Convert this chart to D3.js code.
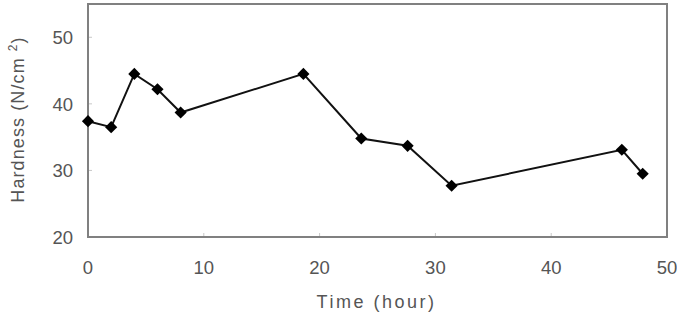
<!DOCTYPE html>
<html><head><meta charset="utf-8">
<script src="https://cdn.jsdelivr.net/npm/d3@7"></script>
<style>body{margin:0;background:#fff}svg{display:block}</style>
</head><body>
<script>
const timeHours = [0, 2, 4, 6, 8, 18.6, 23.6, 27.6, 31.4, 46.1, 47.9];
const hardness = [37.4, 36.5, 44.5, 42.2, 38.7, 44.5, 34.8, 33.7, 27.7, 33.1, 29.5];
const xTicks = [0, 10, 20, 30, 40, 50];
const yTicks = [20, 30, 40, 50];
const xTitle = "Time (hour)";
const yTitle = "Hardness (N/cm ";

const W = 677, H = 312;
const m = {left: 88, right: 10, top: 4, bottom: 75};
const svg = d3.select("body").append("svg").attr("width", W).attr("height", H);
const x = d3.scaleLinear().domain([0, 50]).range([m.left, W - m.right]);
const y = d3.scaleLinear().domain([20, 55]).range([H - m.bottom, m.top]);
const font = "'Liberation Sans', Arial, sans-serif";

// inner tick marks
svg.append("g").selectAll("line").data(yTicks.slice(1)).join("line")
  .attr("x1", x(0)).attr("x2", x(0) + 4).attr("y1", d => y(d)).attr("y2", d => y(d))
  .attr("stroke", "#c8c8c8").attr("stroke-width", 1);
svg.append("g").selectAll("line").data(xTicks.slice(1, -1)).join("line")
  .attr("x1", d => x(d)).attr("x2", d => x(d)).attr("y1", y(20)).attr("y2", y(20) - 4)
  .attr("stroke", "#c8c8c8").attr("stroke-width", 1);

// frame
svg.append("rect").attr("x", x(0)).attr("y", y(55))
  .attr("width", x(50) - x(0)).attr("height", y(20) - y(55))
  .attr("fill", "none").attr("stroke", "#808080").attr("stroke-width", 2);

// tick labels
svg.append("g").selectAll("text").data(yTicks).join("text")
  .attr("x", 73).attr("y", d => y(d)).attr("dy", "0.36em")
  .attr("text-anchor", "end").attr("font-family", font).attr("font-size", 18.5)
  .attr("fill", "#555").text(d => d);
svg.append("g").selectAll("text").data(xTicks).join("text")
  .attr("x", d => x(d)).attr("y", 274)
  .attr("text-anchor", "middle").attr("font-family", font).attr("font-size", 18.5)
  .attr("fill", "#555").text(d => d);

// axis titles
svg.append("text").attr("x", (x(0) + x(50)) / 2 - 1).attr("y", 307.5)
  .attr("text-anchor", "middle").attr("font-family", font).attr("font-size", 18)
  .attr("letter-spacing", 2.5).attr("fill", "#555").text(xTitle);
const yt = svg.append("text")
  .attr("transform", `translate(23.5,${(y(20) + y(55)) / 2 - 1}) rotate(-90)`)
  .attr("text-anchor", "middle").attr("font-family", font).attr("font-size", 18)
  .attr("letter-spacing", 1.1).attr("fill", "#555");
yt.append("tspan").text(yTitle);
yt.append("tspan").attr("font-size", 12).attr("dy", -7).text("2");
yt.append("tspan").attr("dy", 7).text(")");

// line + markers
const data = timeHours.map((t, i) => ({t, h: hardness[i]}));
svg.append("path").datum(data)
  .attr("d", d3.line().x(d => x(d.t)).y(d => y(d.h)))
  .attr("fill", "none").attr("stroke", "#111").attr("stroke-width", 2);
const sym = d3.symbol(d3.symbolSquare, 74);
svg.append("g").selectAll("path").data(data).join("path")
  .attr("d", sym)
  .attr("transform", d => `translate(${x(d.t)},${y(d.h)}) rotate(45)`)
  .attr("fill", "#000");
</script>
</body></html>
